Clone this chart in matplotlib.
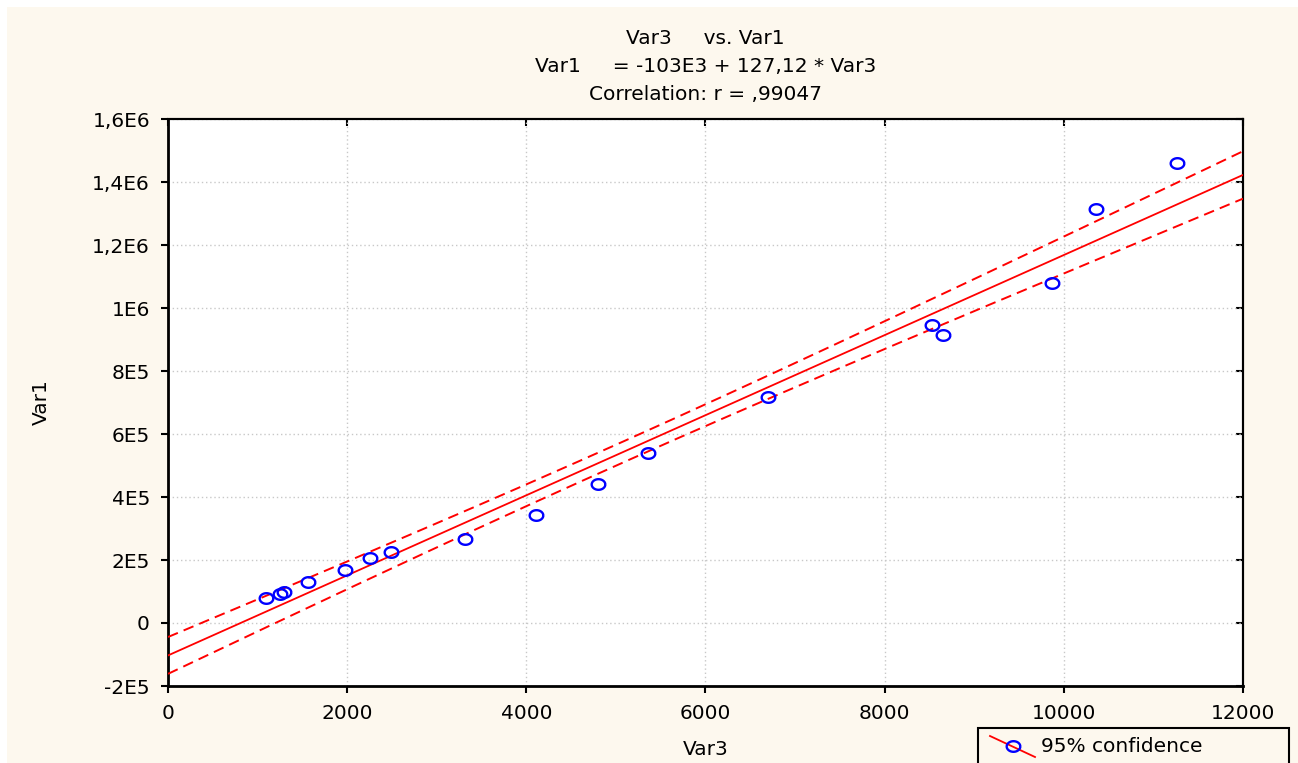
import numpy as np
import matplotlib
matplotlib.use("Agg")
import matplotlib.pyplot as plt
from matplotlib.ticker import FixedLocator, FixedFormatter
from matplotlib.patches import Rectangle
from matplotlib.lines import Line2D

plt.rcParams['font.family'] = ['DejaVu Sans']

# ---- data ----
var3 = [1094, 1255, 1290, 1563, 1976, 2255, 2489, 3315, 4108, 4800, 5358,
        6698, 8528, 8651, 9868, 10359, 11263]
var1 = [79400, 92000, 99000, 130000, 168000, 206000, 225000, 267000, 343000,
        441000, 540000, 717000, 946000, 914000, 1079000, 1314000, 1460000]

intercept = -103e3
slope = 127.12

xticks = [0, 2000, 4000, 6000, 8000, 10000, 12000]
xticklabels = ["0", "2000", "4000", "6000", "8000", "10000", "12000"]
yticks = [-2e5, 0, 2e5, 4e5, 6e5, 8e5, 1e6, 1.2e6, 1.4e6, 1.6e6]
yticklabels = ["-2E5", "0", "2E5", "4E5", "6E5", "8E5", "1E6", "1,2E6", "1,4E6", "1,6E6"]

title_lines = ["Var3     vs. Var1", "Var1     = -103E3 + 127,12 * Var3", "Correlation: r = ,99047"]
xlabel = "Var3"
ylabel = "Var1"
legend_label = "95% confidence"
t_crit = 2.12

# ---- computations ----
x = np.array(var3, float)
y = np.array(var1, float)
n = len(x)
resid = y - (intercept + slope * x)
s = np.sqrt(np.sum(resid ** 2) / (n - 2))
xm = x.mean()
sxx = np.sum((x - xm) ** 2)
xx = np.linspace(0, 12000, 300)
yy = intercept + slope * xx
half = t_crit * s * np.sqrt(1.0 / n + (xx - xm) ** 2 / sxx)

# slightly wide ellipse marker (reference circles are stretched horizontally)
th = np.linspace(0, 2 * np.pi, 60)
ell = np.column_stack([np.cos(th), 0.78 * np.sin(th)])

FS = 14.5
W, H = 1298, 763
fig = plt.figure(figsize=(W / 100, H / 100), dpi=100, facecolor='white')
fig.patches.append(Rectangle((7 / W, 0), 1 - 7 / W, 1 - 7 / H, transform=fig.transFigure,
                             facecolor='#FDF8EE', edgecolor='none', zorder=-10))

ax = fig.add_axes([168 / W, 1 - 686 / H, (1243 - 168) / W, (686 - 119) / H])
ax.set_facecolor('white')
ax.set_xlim(0, 12000)
ax.set_ylim(-2e5, 1.6e6)

red = '#FF0000'
ax.plot(xx, yy, color=red, lw=1.3, zorder=3)
ax.plot(xx, yy + half, color=red, lw=1.4, dashes=(5.5, 3.2), zorder=3)
ax.plot(xx, yy - half, color=red, lw=1.4, dashes=(5.5, 3.2), zorder=3)
ax.plot(x, y, linestyle='none', marker=ell, markersize=9.8, markerfacecolor='none',
        markeredgecolor='#0000FF', markeredgewidth=1.7, zorder=4, clip_on=False)

ax.xaxis.set_major_locator(FixedLocator(xticks))
ax.xaxis.set_major_formatter(FixedFormatter(xticklabels))
ax.yaxis.set_major_locator(FixedLocator(yticks))
ax.yaxis.set_major_formatter(FixedFormatter(yticklabels))
ax.grid(True, color='#C8C8C8', linestyle=(0, (1, 2)), linewidth=1.0)
ax.set_axisbelow(True)

ax.tick_params(direction='out', length=5, width=1.5, labelsize=FS, colors='black', pad=8)
for sp in ['left', 'bottom']:
    ax.spines[sp].set_linewidth(2.0)
for sp in ['top', 'right']:
    ax.spines[sp].set_linewidth(1.5)

secx = ax.secondary_xaxis('top')
secx.xaxis.set_major_locator(FixedLocator(xticks))
secx.tick_params(direction='in', length=5, width=1.5, labeltop=False)
secx.spines['top'].set_linewidth(1.5)
secy = ax.secondary_yaxis('right')
secy.yaxis.set_major_locator(FixedLocator(yticks))
secy.tick_params(direction='in', length=5, width=1.5, labelright=False)
secy.spines['right'].set_linewidth(1.5)

ax.set_xlabel(xlabel, fontsize=FS, labelpad=12)
ax.set_ylabel(ylabel, fontsize=FS, labelpad=30)

cx = (168 + 1243) / 2 / W
for i, line in enumerate(title_lines):
    fig.text(cx, 1 - (38 + 28.5 * i) / H, line, ha='center', va='center', fontsize=FS)

# legend box (cut off at the bottom like the reference)
fig.patches.append(Rectangle((978 / W, -0.05), (1289 - 978) / W, 0.05 + 1 - 728 / H,
                             transform=fig.transFigure, facecolor='#FDF8EE',
                             edgecolor='black', linewidth=1.5, zorder=5))
fig.lines.append(Line2D([990 / W, 1035 / W], [1 - 736 / H, 1 - 757 / H], transform=fig.transFigure,
                        color=red, lw=1.3, zorder=6))
fig.lines.append(Line2D([1013 / W], [1 - 746 / H], transform=fig.transFigure, marker=ell,
                        markersize=9.8, markerfacecolor='none', markeredgecolor='#0000FF',
                        markeredgewidth=1.7, linestyle='none', zorder=7))
fig.text(1041 / W, 1 - 747 / H, legend_label, ha='left', va='center', fontsize=FS, zorder=8)

fig.savefig('out.png', dpi=100, facecolor='white')
